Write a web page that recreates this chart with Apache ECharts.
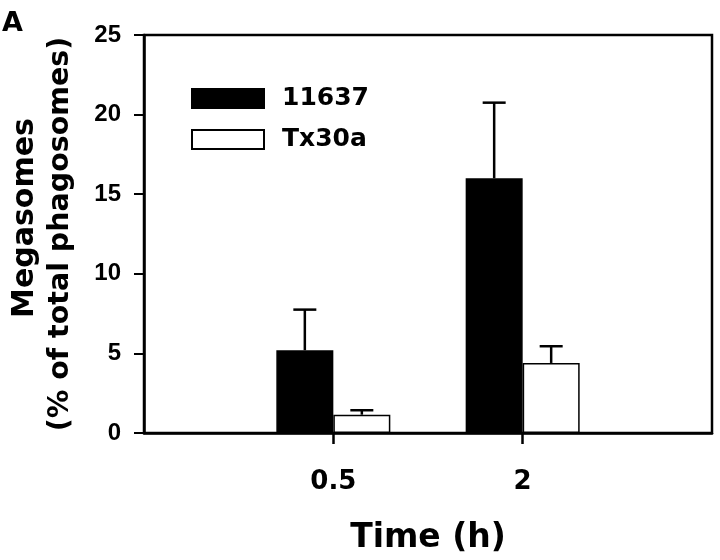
<!DOCTYPE html>
<html>
<head>
<meta charset="utf-8">
<script src="https://cdn.jsdelivr.net/npm/echarts@6/dist/echarts.min.js"></script>
<style>html,body{margin:0;padding:0;background:#fff;}#c{width:720px;height:560px;}</style>
</head>
<body>
<div id="c"></div>
<script>
// Category slots: empty slots pad the axis so 0.5 and 2 sit at 1/3 and 2/3
const timeCategories = ['', '0.5', '2', ''];
const seriesNames = ['11637', 'Tx30a'];
const mean11637 = [null, 5.2, 16.0, null];
const err11637 = [null, 2.55, 4.75, null];
const meanTx30a = [null, 1.15, 4.4, null];
const errTx30a = [null, 0.28, 1.05, null];
const yTicks = [0, 5, 10, 15, 20, 25];

const BAR_W = 57;
const titleFont = 'DejaVu Sans';

function errSeries(means, errs, dir) {
  const data = [];
  means.forEach((m, i) => { if (m != null) data.push([i, m, m + errs[i]]); });
  return {
    type: 'custom',
    silent: true,
    z: 5,
    data: data,
    renderItem: function (params, api) {
      const lo = api.coord([api.value(0), api.value(1)]);
      const hi = api.coord([api.value(0), api.value(2)]);
      const x = lo[0] + dir * BAR_W / 2;
      const cap = 11.5;
      return {
        type: 'group',
        children: [
          { type: 'line', shape: { x1: x, y1: lo[1], x2: x, y2: hi[1] }, style: { stroke: '#000', lineWidth: 2.5 } },
          { type: 'line', shape: { x1: x - cap, y1: hi[1], x2: x + cap, y2: hi[1] }, style: { stroke: '#000', lineWidth: 2.5 } }
        ]
      };
    }
  };
}

const chart = echarts.init(document.getElementById('c'), null, { renderer: 'canvas' });
chart.setOption({
  animation: false,
  backgroundColor: '#fff',
  grid: { left: 144, right: 8, top: 35, bottom: 127, show: true, borderColor: '#000', borderWidth: 2.5,
          backgroundColor: 'transparent', containLabel: false, outerBoundsMode: 'none' },
  title: {
    text: 'A', left: 2, top: 10, padding: 0,
    textStyle: { fontFamily: titleFont, fontWeight: 'bold', fontSize: 27, color: '#000' }
  },
  legend: {
    orient: 'vertical', left: 191, top: 86, padding: 0,
    itemWidth: 72, itemHeight: 19, itemGap: 16,
    icon: 'rect',
    data: seriesNames,
    textStyle: { fontFamily: titleFont, fontWeight: 'bold', fontSize: 25, color: '#000', lineHeight: 20, padding: [0, 0, 0, 13] }
  },
  xAxis: {
    type: 'category',
    data: timeCategories,
    boundaryGap: false,
    name: 'Time (h)', nameLocation: 'middle', nameGap: 89,
    nameTextStyle: { fontFamily: titleFont, fontWeight: 'bold', fontSize: 33, color: '#000' },
    axisLine: { lineStyle: { color: '#000', width: 2.5 } },
    axisTick: { show: true, length: 11, lineStyle: { color: '#000', width: 2.5 }, interval: function (i, v) { return v !== ''; } },
    axisLabel: { margin: 36, interval: 0, fontFamily: titleFont, fontWeight: 'bold', fontSize: 26, color: '#000' },
    splitLine: { show: false }
  },
  yAxis: {
    type: 'value', min: yTicks[0], max: yTicks[yTicks.length - 1], interval: 5,
    name: '{a|Megasomes}\n{b|(% of total phagosomes)}', nameLocation: 'middle', nameGap: 65, nameRotate: 90,
    nameTextStyle: {
      fontFamily: titleFont, fontWeight: 'bold', fontSize: 29, color: '#000', lineHeight: 36,
      rich: {
        a: { fontFamily: titleFont, fontWeight: 'bold', fontSize: 30, color: '#000', lineHeight: 36, padding: [0, 0, 0, 32] },
        b: { fontFamily: titleFont, fontWeight: 'bold', fontSize: 28.5, color: '#000', lineHeight: 36 }
      }
    },
    axisLine: { show: true, lineStyle: { color: '#000', width: 2.5 } },
    axisTick: { show: true, length: 10, lineStyle: { color: '#000', width: 2 } },
    axisLabel: { margin: 23, fontFamily: 'Liberation Sans', fontWeight: 'bold', fontSize: 24, color: '#000' },
    splitLine: { show: false }
  },
  series: [
    { name: seriesNames[0], type: 'bar', data: mean11637, barWidth: BAR_W, barGap: '0%',
      itemStyle: { color: '#000', borderColor: '#000', borderWidth: 1.5 } },
    { name: seriesNames[1], type: 'bar', data: meanTx30a, barWidth: BAR_W, barGap: '0%',
      itemStyle: { color: '#fff', borderColor: '#000', borderWidth: 1.5 } },
    errSeries(mean11637, err11637, -1),
    errSeries(meanTx30a, errTx30a, 1)
  ]
});
</script>
</body>
</html>
